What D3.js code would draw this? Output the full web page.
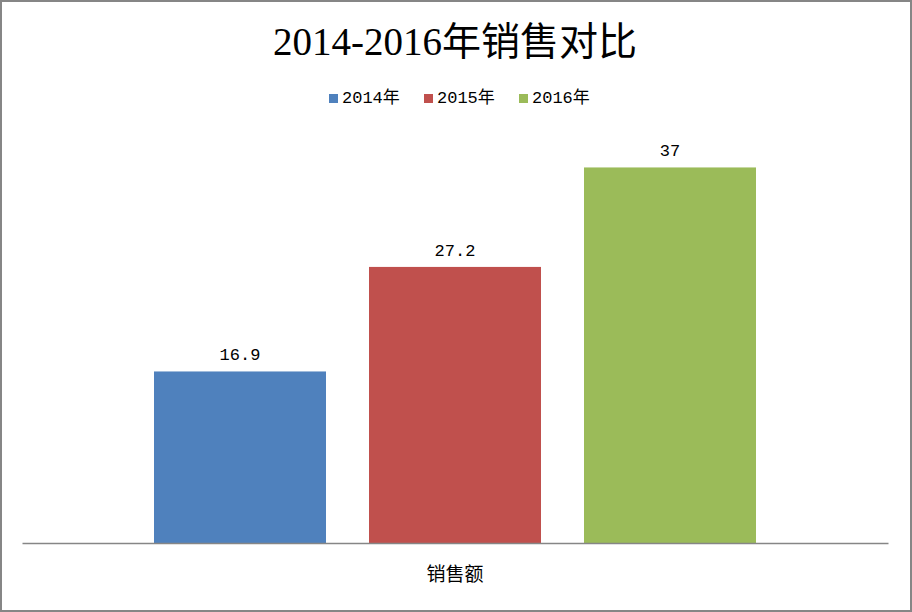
<!DOCTYPE html>
<html><head><meta charset="utf-8">
<script src="https://cdn.jsdelivr.net/npm/d3@7"></script>
<style>body{margin:0;background:#fff}</style>
</head><body>
<svg id="chart" width="912" height="612"></svg>
<script>
const title = "2014-2016年销售对比";
const categories = ["销售额"];
const seriesNames = ["2014年", "2015年", "2016年"];
const seriesValues = [16.9, 27.2, 37];
const seriesColors = ["#4F81BD", "#C0504D", "#9BBB59"];
const yDomain = [0, 40];

const svg = d3.select("#chart");
const W = 912, H = 612;
svg.append("rect").attr("x", 1).attr("y", 1).attr("width", W - 2).attr("height", H - 2)
  .attr("fill", "#fff").attr("stroke", "#868686").attr("stroke-width", 2);

const plot = {left: 22, right: 888, top: 137, bottom: 543};
const x0 = d3.scaleBand().domain(categories).range([plot.left, plot.right]);
const y = d3.scaleLinear().domain(yDomain).range([plot.bottom, plot.top]);
const groupW = 602;
const x1 = d3.scaleBand().domain(seriesNames)
  .range([x0(categories[0]) + (x0.bandwidth() - groupW) / 2, x0(categories[0]) + (x0.bandwidth() + groupW) / 2])
  .paddingInner(0.2).paddingOuter(0);

const data = seriesNames.map((s, i) => ({s, v: seriesValues[i], c: seriesColors[i]}));

svg.append("g").selectAll("rect").data(data).join("rect")
  .attr("x", d => x1(d.s)).attr("width", x1.bandwidth())
  .attr("y", d => y(d.v)).attr("height", d => y(0) - y(d.v))
  .attr("fill", d => d.c);

svg.append("g").selectAll("text").data(data).join("text")
  .attr("x", d => x1(d.s) + x1.bandwidth() / 2).attr("y", d => y(d.v) - 11)
  .attr("text-anchor", "middle").attr("font-family", "'Liberation Mono', 'Noto Sans CJK SC'")
  .attr("font-size", 17).attr("fill", "#000").text(d => d.v);

// x axis
const xAxis = d3.axisBottom(x0).tickSize(0).tickPadding(25);
const gx = svg.append("g").attr("transform", `translate(0,${plot.bottom})`).call(xAxis);
gx.select(".domain").attr("stroke", "#868686").attr("stroke-width", 1.5);
gx.selectAll("text").attr("font-family", "'Noto Sans CJK SC'").attr("font-size", 19).attr("fill", "#000");

// title
svg.append("text").attr("x", 455).attr("y", 55).attr("text-anchor", "middle")
  .attr("font-family", "'Liberation Serif', 'Noto Sans CJK SC'").attr("font-size", 39)
  .attr("font-weight", "normal").attr("fill", "#000").text(title);

// legend
const legend = svg.append("g").attr("transform", "translate(329,103)");
let lx = 0;
data.forEach(d => {
  const g = legend.append("g").attr("transform", `translate(${lx},0)`);
  g.append("rect").attr("x", 0).attr("y", -9).attr("width", 9).attr("height", 9).attr("fill", d.c);
  g.append("text").attr("x", 13).attr("y", 0).attr("font-family", "'Liberation Mono', 'Noto Sans CJK SC'")
    .attr("font-size", 17).attr("fill", "#000").text(d.s);
  lx += 95;
});
</script>
</body></html>
